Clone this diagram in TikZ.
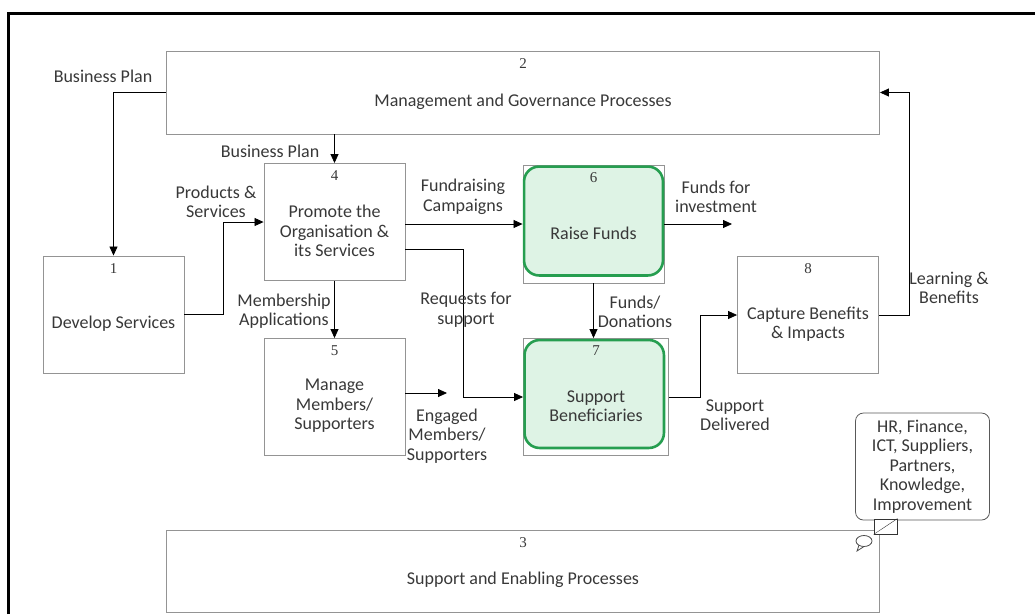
\documentclass[tikz,border=0pt]{standalone}
\usepackage{fontspec}
\setmainfont{Carlito}
\newfontfamily\numfont{Liberation Serif}
\usetikzlibrary{calc}
\usetikzlibrary{positioning}
\usetikzlibrary{arrows.meta}
\colorlet{mygray}{black!42}
\colorlet{mytext}{black!78}
\definecolor{mygreen}{RGB}{38,158,80}
\definecolor{mygreenfill}{RGB}{222,243,229}

\tikzset{
  procbox/.style={draw=mygray, line width=0.9pt, inner sep=0pt},
  numtext/.style={font=\numfont\fontsize{15}{15}\selectfont, text=mytext, inner sep=0pt},
  boxtext/.style={font=\fontsize{18}{19.5}\selectfont, text=mytext, align=center, inner sep=0pt},
  flowtext/.style={boxtext},
  flow/.style={draw=black, line width=0.8pt, -{Triangle[length=9pt,width=8pt]}},
  greenbox/.style={draw=mygreen, line width=2.6pt, fill=mygreenfill, rounded corners=15pt},
}

\begin{document}
\begin{tikzpicture}[x=1pt, y=-1pt]
    \useasboundingbox (0,0) rectangle (1035,614);

    % frame of the page
    \draw[line width=3pt] (8.5,614) -- (8.5,13.5) -- (1035,13.5);

    % process boxes: name/x/y/width/height
    \foreach \nm/\cx/\cy/\w/\h in {
        p2/523/92.5/713/83, p3/523/571/713/82,
        p1/113.5/314.5/141/117, p4/334.5/222/141/117,
        p5/334.5/397/141/117, p6/593.5/224/141/118,
        p7/596/397/145/117, p8/808/315/141/117}{
        \node[procbox, minimum width=\w, minimum height=\h] (\nm) at (\cx,\cy) {};
    }

    % green highlight of 6 and 7
    \draw[greenbox] ($(p6.north west)+(1.5,2)$) rectangle ($(p6.south east)+(-1.5,-8)$);
    \draw[greenbox] ($(p7.north west)+(1.5,2)$) rectangle ($(p7.south east)+(-5,-8)$);

    % numbers and titles
    \foreach \nm/\num/\title in {
        p2/2/{Management and Governance Processes},
        p3/3/{Support and Enabling Processes},
        p1/1/{Develop Services},
        p4/4/{Promote the\\Organisation \&\\its Services},
        p5/5/{Manage\\Members/\\Supporters},
        p6/6/{Raise Funds},
        p7/7/{Support\\Beneficiaries},
        p8/8/{Capture Benefits\\\& Impacts}}{
        \node[numtext] (n\num) at ($(\nm.north)+(0,13)$) {\num};
        \node[boxtext] (t\num) at ($(\nm.center)+(0,9)$) {\title};
    }

    % connectors
    \draw[flow] (p2.west) -| (p1.north);
    \draw[flow] (p2.south -| p4.north) -- (p4.north);
    \draw[flow] (p1.east) -- ++(39,0) |- (p4.west);
    \draw[flow] (p4.east |- p6.west) -- (p6.west);
    \coordinate (invest) at (732,224);
    \draw[flow] (p6.east |- invest) -- (invest);
    \draw[flow] ($(p4.east)+(0,27)$) -| ($(p7.west)+(-60,0)$) -- (p7.west);
    \draw[flow] (p6.south) -- (p6.south |- p7.north);
    \draw[flow] (p4.south) -- (p5.north);
    \coordinate (engaged) at (447,393);
    \draw[flow] (p5.east |- engaged) -- (engaged);
    \draw[flow] (p7.east) -- ++(31.5,0) |- (p8.west);
    \draw[flow] (p8.east) -- ++(30.5,0) |- (p2.east);

    % connector labels
    \node[flowtext] (lplan) at (103,76) {Business Plan};
    \node[flowtext] (lplan2) at (270,151) {Business Plan};
    \node[flowtext] (lprod) at (216,202) {Products \&\\Services};
    \node[flowtext] (lcamp) at (463,197) {Fundraising\\Campaigns};
    \node[flowtext] (linv) at (716,197) {Funds for\\investment};
    \node[flowtext] (lreq) at (466,310) {Requests for\\support};
    \node[flowtext] (ldon) at (635,312) {Funds/\\Donations};
    \node[flowtext] (lmem) at (284,311) {Membership\\Applications};
    \node[flowtext] (leng) at (447,436) {Engaged\\Members/\\Supporters};
    \node[flowtext] (ldel) at (735,415) {Support\\Delivered};
    \node[flowtext] (llearn) at (949,288) {Learning \&\\Benefits};

    % comment callout on box 3
    \node[boxtext, draw=black!65, line width=0.8pt, rounded corners=8pt,
        minimum width=134, minimum height=107] (note) at (922.5,466.5)
        {HR, Finance,\\ICT, Suppliers,\\Partners,\\Knowledge,\\Improvement};
    \node[draw=black!80, line width=0.8pt, fill=white, minimum width=23,
        minimum height=15, inner sep=0pt] (tag) at (885.5,526.5) {};
    \draw[black!80] (tag.south west) -- (tag.north east);
    \draw[black!70, line width=0.8pt] (864,541) ellipse (8 and 5.5);
    \draw[black!70, line width=0.8pt] (859,545) -- (857,551) -- (864,546.5);

\end{tikzpicture}
\end{document}
